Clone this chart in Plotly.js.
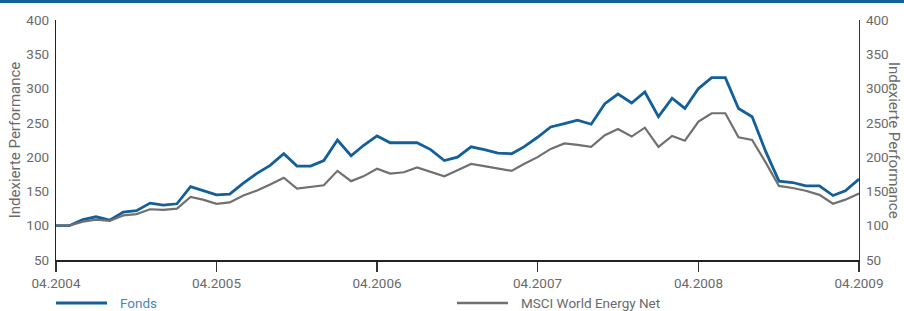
<!DOCTYPE html>
<html>
<head>
<meta charset="utf-8">
<script src="https://cdn.plot.ly/plotly-3.0.1.min.js"></script>
<style>html,body{margin:0;padding:0;background:#fff;}#chart{width:904px;height:311px;}</style>
</head>
<body>
<div id="chart"></div>
<script>
// Monthly indexed performance, 04.2004 – 04.2009 (start = 100)
const startYear = 2004, startMonth = 4;
const fonds = [100,100,109,113,108,120,122,133,130,132,157,151,145,146,162,176,188,205,187,187,195,225,202,217,231,221,221,221,211,195,200,215,211,206,205,215,229,244,249,254,248,278,292,279,295,259,286,271,300,316,316,271,259,208,165,163,158,158,144,151,168];
const msci  = [100,100,106,109,107,115,117,124,123,125,142,138,132,134,144,151,160,170,154,157,159,180,165,172,183,176,178,185,179,172,181,190,187,183,180,190,200,212,220,218,215,232,241,230,243,215,231,224,252,264,264,229,225,192,158,155,151,145,132,138,147];
const seriesNames = ["Fonds", "MSCI World Energy Net"];
const yTitle = "Indexierte Performance";

const months = [];
for (let i = 0; i < fonds.length; i++) {
  const m = (startMonth - 1 + i) % 12 + 1;
  const y = startYear + Math.floor((startMonth - 1 + i) / 12);
  months.push(y + "-" + String(m).padStart(2, "0") + "-01");
}

const BLUE = "#135f99", GREY = "#707070", TXT = "#6a6a6a";
const FONT = "Roboto, 'DejaVu Sans', sans-serif";

const traces = [
  {x: months, y: msci, name: seriesNames[1], type: "scatter", mode: "lines",
   line: {color: GREY, width: 2.2}, yaxis: "y2", hoverinfo: "skip"},
  {x: months, y: fonds, name: seriesNames[0], type: "scatter", mode: "lines",
   line: {color: BLUE, width: 2.8}, hoverinfo: "skip"}
];

const W = 803, H = 240; // plot area
const px = v => (v - 56) / W;
const py = v => (260 - v) / H;
const LEGY = 303;

const layout = {
  width: 904, height: 311,
  margin: {l: 56, r: 45, t: 20, b: 51},
  paper_bgcolor: "#fff", plot_bgcolor: "#fff",
  showlegend: false,
  font: {family: FONT, size: 13, color: TXT},
  xaxis: {
    type: "date", range: [months[0], months[months.length - 1]],
    tick0: months[0], dtick: "M12", tickformat: "%m.%Y",
    showgrid: false, zeroline: false,
    showline: true, linecolor: "#222", linewidth: 2,
    ticks: "outside", ticklen: 10, tickwidth: 1.5, tickcolor: "#333",
    tickfont: {family: FONT, size: 13.5, color: TXT}
  },
  yaxis: {
    range: [50, 400], dtick: 50, tick0: 50,
    showgrid: false, zeroline: false,
    showline: true, linecolor: "#222", linewidth: 1.2,
    ticks: "", ticklabelstandoff: 3,
    tickfont: {family: FONT, size: 13.5, color: TXT},
    title: {text: yTitle, font: {family: FONT, size: 15, color: TXT}, standoff: 2}
  },
  yaxis2: {
    range: [50, 400], dtick: 50, tick0: 50, overlaying: "y", side: "right",
    showgrid: false, zeroline: false,
    showline: true, linecolor: "#333", linewidth: 1.2,
    ticks: "", ticklabelstandoff: 3,
    tickfont: {family: FONT, size: 13.5, color: TXT}
  },
  shapes: [
    {type: "rect", xref: "paper", yref: "paper", x0: px(0), x1: px(904), y0: py(3), y1: py(-2),
     fillcolor: BLUE, line: {width: 0}, layer: "above"},
    {type: "line", xref: "paper", yref: "paper", x0: px(56), x1: px(107), y0: py(LEGY), y1: py(LEGY),
     line: {color: BLUE, width: 3}},
    {type: "line", xref: "paper", yref: "paper", x0: px(457), x1: px(508), y0: py(LEGY), y1: py(LEGY),
     line: {color: GREY, width: 2.5}}
  ],
  annotations: [
    {xref: "paper", yref: "paper", x: px(894), y: 0.5, text: yTitle, textangle: 90,
     showarrow: false, xanchor: "center", yanchor: "middle",
     font: {family: FONT, size: 15, color: TXT}},
    {xref: "paper", yref: "paper", x: px(118), y: py(LEGY), text: seriesNames[0],
     showarrow: false, xanchor: "left", yanchor: "middle",
     font: {family: FONT, size: 13.5, color: "#4a86b8"}},
    {xref: "paper", yref: "paper", x: px(519), y: py(LEGY), text: seriesNames[1],
     showarrow: false, xanchor: "left", yanchor: "middle",
     font: {family: FONT, size: 13.5, color: TXT}}
  ]
};

Plotly.newPlot("chart", traces, layout, {staticPlot: true, displayModeBar: false});
</script>
</body>
</html>
